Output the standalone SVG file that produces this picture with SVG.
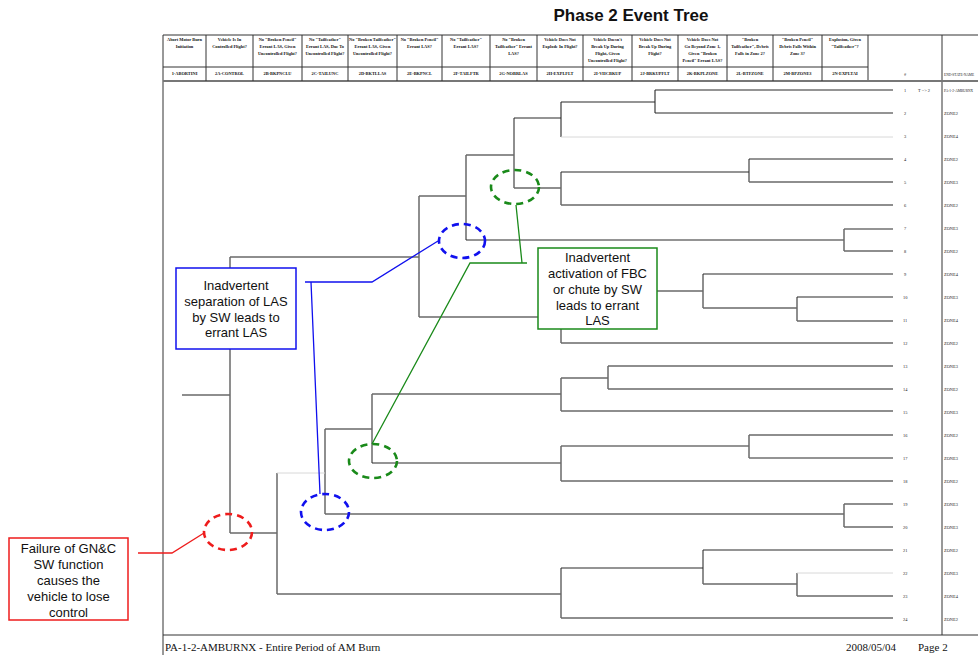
<svg xmlns="http://www.w3.org/2000/svg" width="978" height="655" viewBox="0 0 978 655">
<style>
.frame{stroke:#333;stroke-width:1;fill:none}
.frame2{stroke:#777;stroke-width:2;fill:none}
.t{stroke:#6a6a6a;stroke-width:1.5;fill:none}
.k{stroke:#2a2a2a;stroke-width:1.1;fill:none}
.f{stroke:#d8d8d8;stroke-width:1;fill:none}
.hd{font-family:"Liberation Serif",serif;font-size:4.4px;font-weight:bold;fill:#111;text-anchor:middle}
.sm{font-family:"Liberation Serif",serif;font-size:4.4px;fill:#222}
.xs{font-family:"Liberation Serif",serif;font-size:3.5px;fill:#222}
.title{font-family:"Liberation Sans",Arial,sans-serif;font-size:17px;font-weight:bold;fill:#111;text-anchor:middle}
.ann{font-family:"Liberation Sans",Arial,sans-serif;font-size:13px;fill:#111;text-anchor:middle}
.foot{font-family:"Liberation Serif",serif;font-size:11px;fill:#111}
.box{fill:#fff;stroke-width:1.5}
.ell{fill:none;stroke-width:2.6;stroke-dasharray:7 5}
</style>
<rect width="978" height="655" fill="#fff"/>
<text class="title" x="631" y="21">Phase 2 Event Tree</text>

<g id="frame">
<path class="frame" d="M163,35 V655 M163,35 H978 M163,67 H868 M942,35 V635 M163,635 H978 M868,35 V81"/>
<path class="frame2" d="M163,81 H978"/>
<path class="frame" d="M206,35 V81 M253,35 V81 M302,35 V81 M348,35 V81 M397,35 V81 M442,35 V81 M490,35 V81 M537,35 V81 M583,35 V81 M632,35 V81 M678,35 V81 M727,35 V81 M773,35 V81 M822,35 V81"/>
</g>

<g id="header">
<text class="hd" x="184.5" y="41">Abort Motor Burn<tspan x="184.5" y="48">Initiation</tspan></text>
<text class="hd" x="229.5" y="41">Vehicle Is In<tspan x="229.5" y="48">Controlled Flight?</tspan></text>
<text class="hd" x="277.5" y="41">No "Broken Pencil"<tspan x="277.5" y="48">Errant LAS, Given</tspan><tspan x="277.5" y="55">Uncontrolled Flight?</tspan></text>
<text class="hd" x="325" y="41">No "Tailfeather"<tspan x="325" y="48">Errant LAS, Due To</tspan><tspan x="325" y="55">Uncontrolled Flight?</tspan></text>
<text class="hd" x="372.5" y="41">No "Broken Tailfeather"<tspan x="372.5" y="48">Errant LAS, Given</tspan><tspan x="372.5" y="55">Uncontrolled Flight?</tspan></text>
<text class="hd" x="419.5" y="41">No "Broken Pencil"<tspan x="419.5" y="48">Errant LAS?</tspan></text>
<text class="hd" x="466" y="41">No "Tailfeather"<tspan x="466" y="48">Errant LAS?</tspan></text>
<text class="hd" x="513.5" y="41">No "Broken<tspan x="513.5" y="48">Tailfeather" Errant</tspan><tspan x="513.5" y="55">LAS?</tspan></text>
<text class="hd" x="560" y="41">Vehicle Does Not<tspan x="560" y="48">Explode In Flight?</tspan></text>
<text class="hd" x="607.5" y="41">Vehicle Doesn't<tspan x="607.5" y="48">Break Up During</tspan><tspan x="607.5" y="55">Flight, Given</tspan><tspan x="607.5" y="62">Uncontrolled Flight?</tspan></text>
<text class="hd" x="655" y="41">Vehicle Does Not<tspan x="655" y="48">Break Up During</tspan><tspan x="655" y="55">Flight?</tspan></text>
<text class="hd" x="702.5" y="41">Vehicle Does Not<tspan x="702.5" y="48">Go Beyond Zone 1,</tspan><tspan x="702.5" y="55">Given "Broken</tspan><tspan x="702.5" y="62">Pencil" Errant LAS?</tspan></text>
<text class="hd" x="750" y="41">"Broken<tspan x="750" y="48">Tailfeather", Debris</tspan><tspan x="750" y="55">Falls in Zone 2?</tspan></text>
<text class="hd" x="797.5" y="41">"Broken Pencil"<tspan x="797.5" y="48">Debris Falls Within</tspan><tspan x="797.5" y="55">Zone 3?</tspan></text>
<text class="hd" x="845" y="41">Explosion, Given<tspan x="845" y="48">"Tailfeather"?</tspan></text>
<text class="hd" x="184.5" y="75">1-ABORTINI</text>
<text class="hd" x="229.5" y="75">2A-CONTROL</text>
<text class="hd" x="277.5" y="75">2B-BKPNCLU</text>
<text class="hd" x="325" y="75">2C-TAILUNC</text>
<text class="hd" x="372.5" y="75">2D-BKTLLAS</text>
<text class="hd" x="419.5" y="75">2E-BKPNCL</text>
<text class="hd" x="466" y="75">2F-TAILFTR</text>
<text class="hd" x="513.5" y="75">2G-NOBRLAS</text>
<text class="hd" x="560" y="75">2H-EXPLFLT</text>
<text class="hd" x="607.5" y="75">2I-VHCBKUP</text>
<text class="hd" x="655" y="75">2J-BRKUPFLT</text>
<text class="hd" x="702.5" y="75">2K-BKPLZONE</text>
<text class="hd" x="750" y="75">2L-BTFZONE</text>
<text class="hd" x="797.5" y="75">2M-BPZONE3</text>
<text class="hd" x="845" y="75">2N-EXPLTAI</text>
<text class="sm" x="904" y="76">#</text>
<text class="xs" x="944" y="76">END-STATE-NAME</text>
</g>

<g id="connectors">
<path class="t" d="M182,395 H230 M230,257 V533 M230,257 H419 M419,196 V317 M419,196 H466 M466,155 V240 M466,155 H514 M514,118 V188"/>
<path class="k" d="M514,118 H561 M561,102 V137 M561,102 H655 M655,90 V113 M655,90 H893 M655,113 H893"/>
<path class="f" d="M561,137 H893"/>
<path class="t" d="M514,188 H561 M561,172 V205 M749,159 V182 M749,182 H893 M561,205 H893"/>
<path class="k" d="M561,172 H749 M749,159 H893"/>
<path class="k" d="M466,240 H844 M844,229 H893"/>
<path class="t" d="M844,229 V251 M844,251 H893"/>
<path class="t" d="M419,317 H561 M561,291 V343 M561,291 H703 M703,274 V308 M703,308 H797 M797,297 V321 M797,321 H893 M561,343 H893"/>
<path class="k" d="M703,274 H893 M797,297 H893"/>
<path class="t" d="M230,533 H277 M277,473 V594 M325,429 V514 M325,429 H372 M372,394 V463 M372,394 H561 M561,378 V411 M561,378 H608 M608,366 V389 M608,366 H893 M608,389 H893 M561,411 H893"/>
<path class="f" d="M277,473 H325"/>
<path class="k" d="M372,463 H561 M561,446 H749 M749,458 H893"/>
<path class="t" d="M561,446 V481 M749,435 V458 M749,435 H893 M561,481 H893"/>
<path class="t" d="M325,514 H844 M844,504 V527 M844,504 H893 M844,527 H893"/>
<path class="t" d="M277,594 H561 M561,568 V618 M703,550 V584 M703,584 H797 M797,573 V596 M797,596 H893 M561,618 H893"/>
<path class="k" d="M561,568 H703 M703,550 H893"/>
<path class="f" d="M797,573 H893"/>
</g>

<g id="endstates">
<g class="sm">
<text x="904" y="92">1</text><text x="918" y="92">T =&gt; 2</text><text class="xs" x="944" y="92">PA-1-2-AMBURNX</text>
<text x="904" y="115">2</text><text x="944" y="115">ZONE2</text>
<text x="904" y="138">3</text><text x="944" y="138">ZONE4</text>
<text x="904" y="161">4</text><text x="944" y="161">ZONE2</text>
<text x="904" y="184">5</text><text x="944" y="184">ZONE3</text>
<text x="904" y="207">6</text><text x="944" y="207">ZONE2</text>
<text x="904" y="230">7</text><text x="944" y="230">ZONE3</text>
<text x="904" y="253">8</text><text x="944" y="253">ZONE2</text>
<text x="904" y="276">9</text><text x="944" y="276">ZONE4</text>
<text x="903" y="299">10</text><text x="944" y="299">ZONE3</text>
<text x="903" y="322">11</text><text x="944" y="322">ZONE4</text>
<text x="903" y="345">12</text><text x="944" y="345">ZONE2</text>
<text x="903" y="368">13</text><text x="944" y="368">ZONE3</text>
<text x="903" y="391">14</text><text x="944" y="391">ZONE2</text>
<text x="903" y="414">15</text><text x="944" y="414">ZONE3</text>
<text x="903" y="437">16</text><text x="944" y="437">ZONE2</text>
<text x="903" y="460">17</text><text x="944" y="460">ZONE3</text>
<text x="903" y="483">18</text><text x="944" y="483">ZONE2</text>
<text x="903" y="506">19</text><text x="944" y="506">ZONE3</text>
<text x="903" y="529">20</text><text x="944" y="529">ZONE3</text>
<text x="903" y="552">21</text><text x="944" y="552">ZONE2</text>
<text x="903" y="575">22</text><text x="944" y="575">ZONE3</text>
<text x="903" y="598">23</text><text x="944" y="598">ZONE4</text>
<text x="903" y="621">24</text><text x="944" y="621">ZONE2</text>
</g>
</g>

<g id="annotation-las" stroke="#1010ee">
<path d="M305,282 H372 L438,241 M311,282 L320,494" fill="none" stroke-width="1.3"/>
<ellipse class="ell" cx="462" cy="241" rx="23" ry="17"/>
<ellipse class="ell" cx="325" cy="512" rx="24" ry="18"/>
<rect class="box" x="176" y="268" width="120" height="81"/>
<text class="ann" stroke="none" x="236" y="290">Inadvertent<tspan x="236" y="306">separation of LAS</tspan><tspan x="236" y="321.5">by SW leads to</tspan><tspan x="236" y="337">errant LAS</tspan></text>
</g>

<g id="annotation-fbc" stroke="#1a8a1a">
<path d="M527,263 H470 L372,444 M522,263 L516,205" fill="none" stroke-width="1.3"/>
<ellipse class="ell" cx="515" cy="187" rx="24" ry="17"/>
<ellipse class="ell" cx="373" cy="461" rx="24" ry="17"/>
<rect class="box" x="538" y="248" width="119" height="81"/>
<text class="ann" stroke="none" x="597.5" y="262">Inadvertent<tspan x="597.5" y="278">activation of FBC</tspan><tspan x="597.5" y="294">or chute by SW</tspan><tspan x="597.5" y="310">leads to errant</tspan><tspan x="597.5" y="325">LAS</tspan></text>
</g>

<g id="annotation-gnc" stroke="#ee1c1c">
<path d="M138,553 H172 L204,533" fill="none" stroke-width="1.3"/>
<ellipse class="ell" cx="228" cy="532" rx="24" ry="18"/>
<rect class="box" x="9" y="538" width="119" height="82"/>
<text class="ann" stroke="none" x="68.5" y="553">Failure of GN&amp;C<tspan x="68.5" y="568.5">SW function</tspan><tspan x="68.5" y="584.5">causes the</tspan><tspan x="68.5" y="600.5">vehicle to lose</tspan><tspan x="68.5" y="616.5">control</tspan></text>
</g>

<g id="footer">
<text class="foot" x="165" y="651">PA-1-2-AMBURNX - Entire Period of AM Burn</text>
<text class="foot" x="846" y="651">2008/05/04</text>
<text class="foot" x="918" y="651">Page 2</text>
</g>
</svg>
